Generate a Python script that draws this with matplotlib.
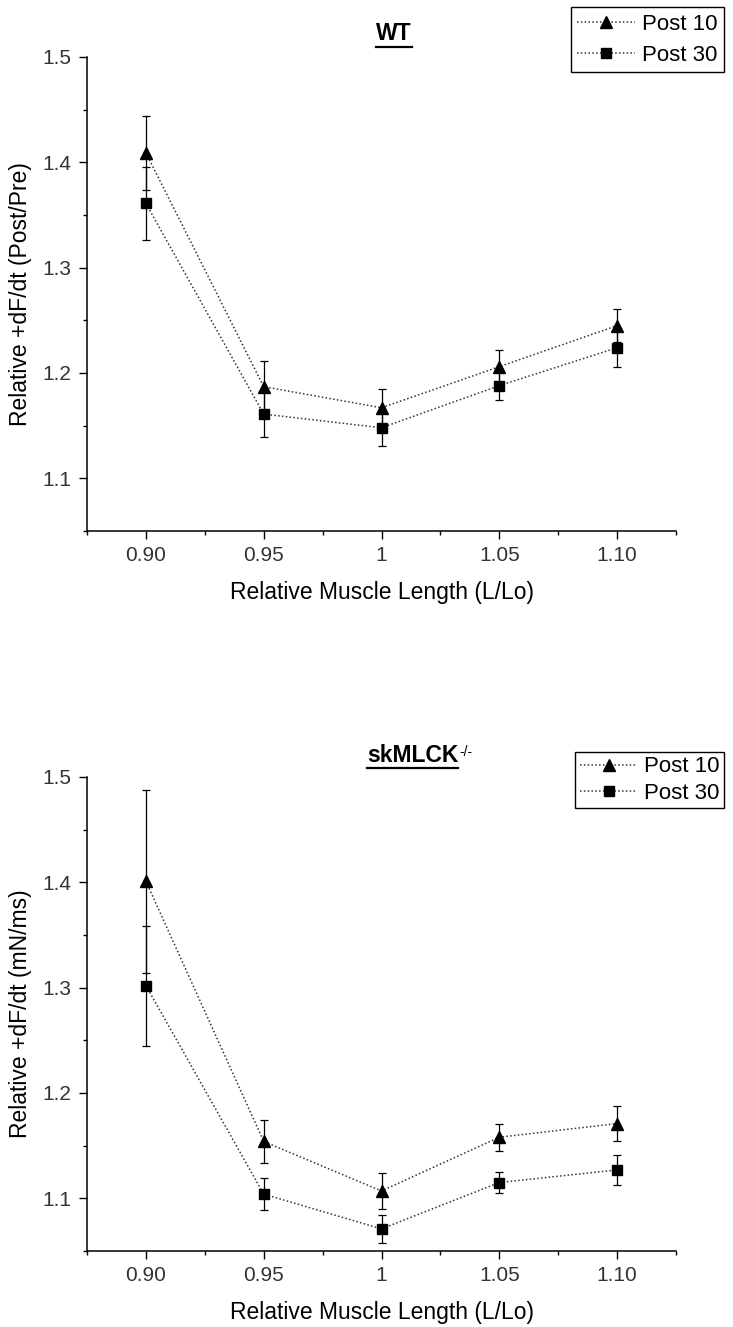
import numpy as np
import matplotlib
matplotlib.use('Agg')
import matplotlib.pyplot as plt
from matplotlib.lines import Line2D
from matplotlib.ticker import FixedLocator

plt.rcParams['font.family'] = ['Liberation Sans', 'DejaVu Sans']

# data
length = [0.90, 0.95, 1.00, 1.05, 1.10]
x_tick_labels = ['0.90', '0.95', '1', '1.05', '1.10']
y_ticks = [1.1, 1.2, 1.3, 1.4, 1.5]
y_tick_labels = ['1.1', '1.2', '1.3', '1.4', '1.5']

wt_post10 = [1.409, 1.187, 1.167, 1.206, 1.245]
wt_post10_err = [0.035, 0.024, 0.018, 0.016, 0.016]
wt_post30 = [1.361, 1.161, 1.148, 1.188, 1.224]
wt_post30_err = [0.035, 0.022, 0.017, 0.014, 0.018]

ko_post10 = [1.401, 1.154, 1.107, 1.158, 1.171]
ko_post10_err = [0.087, 0.020, 0.017, 0.013, 0.017]
ko_post30 = [1.302, 1.104, 1.071, 1.115, 1.127]
ko_post30_err = [0.057, 0.015, 0.013, 0.010, 0.014]

W, H = 733, 1327
fig = plt.figure(figsize=(W / 100, H / 100), dpi=100)

panels = [
    dict(top=57, ylabel='Relative +dF/dt (Post/Pre)', title='WT', sup=None,
         leg_top=7, leg_pad=0.3, leg_space=0.45,
         p10=wt_post10, e10=wt_post10_err, p30=wt_post30, e30=wt_post30_err),
    dict(top=777, ylabel='Relative +dF/dt (mN/ms)', title='skMLCK', sup='-/-',
         leg_top=752, leg_pad=0.2, leg_space=0.25,
         p10=ko_post10, e10=ko_post10_err, p30=ko_post30, e30=ko_post30_err),
]

ax_left, ax_w, ax_h = 87, 589, 474
tick_color = '#333333'
dot_style = (0, (1, 1.5))

for p in panels:
    ax = fig.add_axes([ax_left / W, 1 - (p['top'] + ax_h) / H, ax_w / W, ax_h / H])
    for key, marker, ms in [('10', '^', 9), ('30', 's', 7)]:
        ax.errorbar(length, p['p' + key], yerr=p['e' + key], fmt='none',
                    ecolor='black', elinewidth=0.9, capsize=3, capthick=0.9, zorder=2)
        ax.plot(length, p['p' + key], linestyle=dot_style, color='#333333', lw=1.1,
                marker=marker, ms=ms, mfc='black', mec='black', zorder=3)

    ax.set_xlim(0.875, 1.125)
    ax.set_ylim(1.05, 1.5)
    for s in ['top', 'right']:
        ax.spines[s].set_visible(False)
    for s in ['left', 'bottom']:
        ax.spines[s].set_linewidth(1.1)
    ax.xaxis.set_major_locator(FixedLocator(length))
    ax.set_xticklabels(x_tick_labels)
    ax.xaxis.set_minor_locator(FixedLocator([0.875, 0.925, 0.975, 1.025, 1.075, 1.125]))
    ax.yaxis.set_major_locator(FixedLocator(y_ticks))
    ax.set_yticklabels(y_tick_labels)
    ax.yaxis.set_minor_locator(FixedLocator([1.05, 1.15, 1.25, 1.35, 1.45]))
    ax.tick_params(which='major', direction='out', length=6, width=1.0,
                   labelsize=15, labelcolor=tick_color, pad=5)
    ax.tick_params(which='minor', direction='out', length=3, width=1.0)
    ax.set_xlabel('Relative Muscle Length (L/Lo)', fontsize=16.5, labelpad=11)
    ax.set_ylabel(p['ylabel'], fontsize=16.5, labelpad=8)

    handles = [
        Line2D([], [], linestyle=dot_style, color='#333333', lw=1.1, marker='^',
               ms=9, mfc='black', mec='black'),
        Line2D([], [], linestyle=dot_style, color='#333333', lw=1.1, marker='s',
               ms=7, mfc='black', mec='black'),
    ]
    leg = fig.legend(handles, ['Post 10', 'Post 30'], loc='upper right',
                     bbox_to_anchor=(724 / W, 1 - p['leg_top'] / H), fontsize=16,
                     frameon=True, fancybox=False, edgecolor='black', framealpha=1,
                     handlelength=2.6, handletextpad=0.3, borderpad=p['leg_pad'],
                     labelspacing=p['leg_space'], borderaxespad=0)
    leg.get_frame().set_linewidth(1.0)

    if p['sup'] is None:
        p['title_artist'] = fig.text(394 / W, 1 - (p['top'] - 23) / H, p['title'],
                                     ha='center', va='center', fontsize=16.5, fontweight='bold')
    else:
        p['title_artist'] = fig.text(367 / W, 1 - (p['top'] - 22) / H, p['title'],
                                     ha='left', va='center', fontsize=16.5, fontweight='bold')

fig.canvas.draw()
renderer = fig.canvas.get_renderer()
for p in panels:
    bb = p['title_artist'].get_window_extent(renderer)
    y_line = bb.y0 - 1
    fig.add_artist(Line2D([bb.x0 / W, bb.x1 / W], [y_line / H, y_line / H],
                          color='black', lw=1.6))
    if p['sup'] is not None:
        fig.text((bb.x1 + 1) / W, (bb.y1 - 1) / H, p['sup'], ha='left', va='top',
                 fontsize=10)

fig.savefig('out.png', dpi=100)
